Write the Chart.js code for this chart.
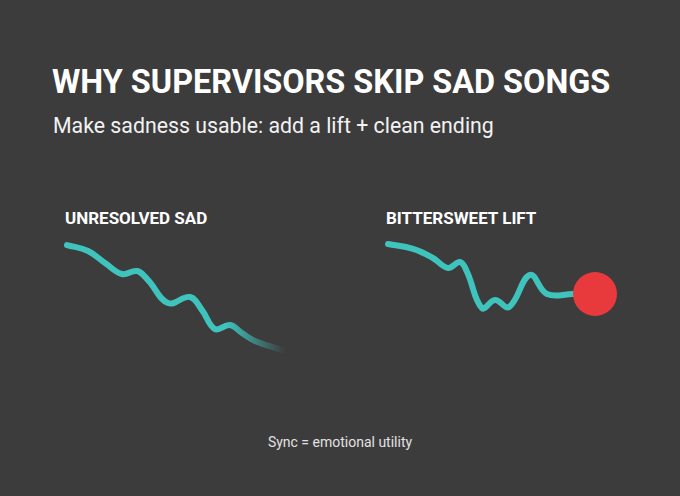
<!DOCTYPE html>
<html>
<head>
<meta charset="utf-8">
<script src="https://cdn.jsdelivr.net/npm/chart.js@4"></script>
<style>
  html, body { margin: 0; padding: 0; }
  body { width: 680px; height: 496px; background: #3d3c3d; position: relative; overflow: hidden;
         font-family: Roboto, "Noto Sans", sans-serif; color: #fff; }
  .txt { position: absolute; line-height: 1; white-space: nowrap; }
  #title { left: 52px; top: 66px; font-size: 32.4px; font-weight: 700; }
  #subtitle { left: 53px; top: 115px; font-size: 21.3px; color: #f2f2f2; }
  .label { top: 209.5px; font-size: 17px; font-weight: 700; }
  #footer { left: 0; width: 680px; text-align: center; top: 435px; font-size: 14px; color: #e2e2e2; }
  canvas { position: absolute; }
</style>
</head>
<body>
<div class="txt" id="title">WHY SUPERVISORS SKIP SAD SONGS</div>
<div class="txt" id="subtitle">Make sadness usable: add a lift + clean ending</div>
<div class="txt label" style="left:65px">UNRESOLVED SAD</div>
<div class="txt label" style="left:386px">BITTERSWEET LIFT</div>
<div class="txt" id="footer">Sync = emotional utility</div>

<canvas id="sadChart" width="267" height="158" style="left:41px;top:218px"></canvas>
<canvas id="liftChart" width="259" height="158" style="left:362px;top:218px"></canvas>

<script>
// time through the song (0-100) and emotional level (0-100)
const sadTime = [0, 9.8, 17.7, 25.6, 32.6, 37.7, 47.0, 57.2, 62.8, 68.8, 75.8, 81.4, 87.4, 100];
const sadMood = [99, 93.4, 82.1, 71.7, 74.5, 66.0, 44.3, 50.0, 37.7, 19.8, 23.6, 16.0, 8.5, 0];

const liftTime = [0, 12.1, 21.7, 29.0, 34.8, 38.2, 45.4, 51.7, 58.5, 68.6, 76.8, 89.4, 100];
const liftMood = [100, 95.3, 86.8, 77.4, 83.0, 73.6, 39.6, 47.2, 40.6, 70.8, 52.8, 52.8, 52.8];

const teal = '#3fc4bd';
const red = '#e8393c';

function toPoints(xs, ys) {
  return xs.map((x, i) => ({ x: x, y: ys[i] }));
}

function baseOptions() {
  return {
    responsive: false,
    animation: false,
    layout: { padding: 26 },
    plugins: { legend: { display: false }, tooltip: { enabled: false } },
    scales: {
      x: { type: 'linear', min: 0, max: 100, display: false },
      y: { min: 0, max: 100, display: false }
    }
  };
}

// fading stroke for the unresolved ending
function fadeStroke(context) {
  const chart = context.chart;
  const area = chart.chartArea;
  if (!area) return teal;
  const g = chart.ctx.createLinearGradient(area.left, 0, area.right, 0);
  g.addColorStop(0, 'rgba(63,196,189,1)');
  g.addColorStop(0.74, 'rgba(63,196,189,1)');
  g.addColorStop(1, 'rgba(63,196,189,0.05)');
  return g;
}

new Chart(document.getElementById('sadChart').getContext('2d'), {
  type: 'line',
  data: {
    datasets: [{
      data: toPoints(sadTime, sadMood),
      borderColor: fadeStroke,
      borderWidth: 6,
      borderCapStyle: 'round',
      borderJoinStyle: 'round',
      tension: 0.4,
      pointRadius: 0,
      fill: false,
      clip: false
    }]
  },
  options: baseOptions()
});

const lastIdx = liftTime.length - 1;
new Chart(document.getElementById('liftChart').getContext('2d'), {
  type: 'line',
  data: {
    datasets: [{
      data: toPoints(liftTime, liftMood),
      borderColor: teal,
      borderWidth: 6,
      borderCapStyle: 'round',
      borderJoinStyle: 'round',
      tension: 0.4,
      pointRadius: ctx => ctx.dataIndex === lastIdx ? 22 : 0,
      pointBackgroundColor: red,
      pointBorderWidth: 0,
      fill: false,
      clip: false
    }]
  },
  options: baseOptions()
});
</script>
</body>
</html>
